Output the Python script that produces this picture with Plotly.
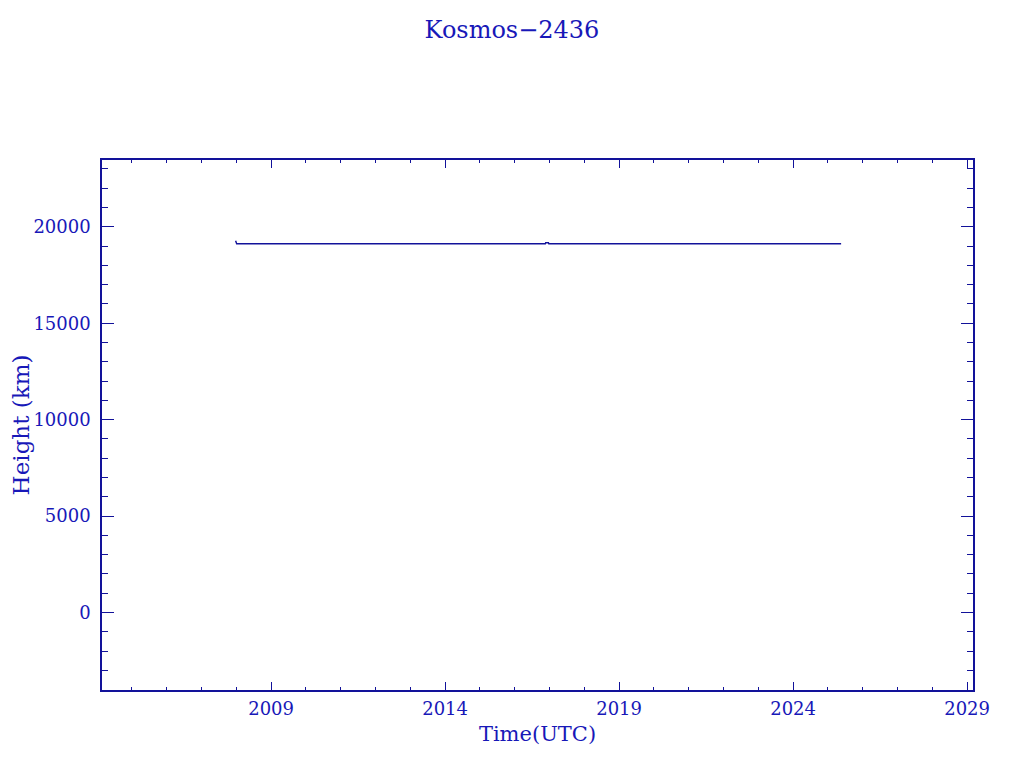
import plotly.graph_objects as go

# Data (decimal year, height km)
years = [2007.98, 2008.01, 2016.88, 2016.89, 2016.97, 2016.98, 2025.38]
heights = [19273, 19120, 19120, 19170, 19170, 19120, 19120]

x_ticks = [2009, 2014, 2019, 2024, 2029]
y_ticks = [0, 5000, 10000, 15000, 20000]

line_col = "#12129a"
text_col = "#1818b8"
font = "DejaVu Serif"

fig = go.Figure()
fig.add_trace(go.Scatter(x=years, y=heights, mode="lines",
                         line=dict(color=line_col, width=1.4, shape="linear"),
                         showlegend=False, hoverinfo="skip"))

axis_common = dict(showline=True, linecolor=line_col, linewidth=1.5, mirror="allticks",
                   ticks="inside", tickcolor=line_col, tickwidth=1.2,
                   showgrid=False, zeroline=False, automargin=False,
                   tickfont=dict(family=font, size=18, color=text_col))

fig.update_xaxes(range=[2004.14, 2029.17], tickvals=x_ticks,
                 ticktext=[str(v) for v in x_ticks], ticklen=8, ticklabelstandoff=2,
                 minor=dict(dtick=1, tick0=2009, ticks="inside", ticklen=3, tickcolor=line_col, tickwidth=1.2),
                 title=dict(text="Time(UTC)", font=dict(family=font, size=21, color=text_col), standoff=8),
                 **axis_common)
fig.update_yaxes(range=[-4018, 23462], tickvals=y_ticks,
                 ticktext=[str(v) for v in y_ticks], ticklen=12, ticklabelstandoff=6,
                 minor=dict(dtick=1000, tick0=0, ticks="inside", ticklen=6, tickcolor=line_col, tickwidth=1.2),
                 title=dict(text="Height (km)", font=dict(family=font, size=23, color=text_col), standoff=13),
                 **axis_common)

fig.update_layout(
    width=1024, height=768,
    margin=dict(l=94, r=59, t=152, b=86),
    paper_bgcolor="white", plot_bgcolor="white",
    title=dict(text="Kosmos\u22122436", x=0.5 - 8/1024, xanchor="center", y=1 - 22/768, yanchor="middle",
               font=dict(family=font, size=24, color=text_col)),
)

fig.write_html("out.html")
